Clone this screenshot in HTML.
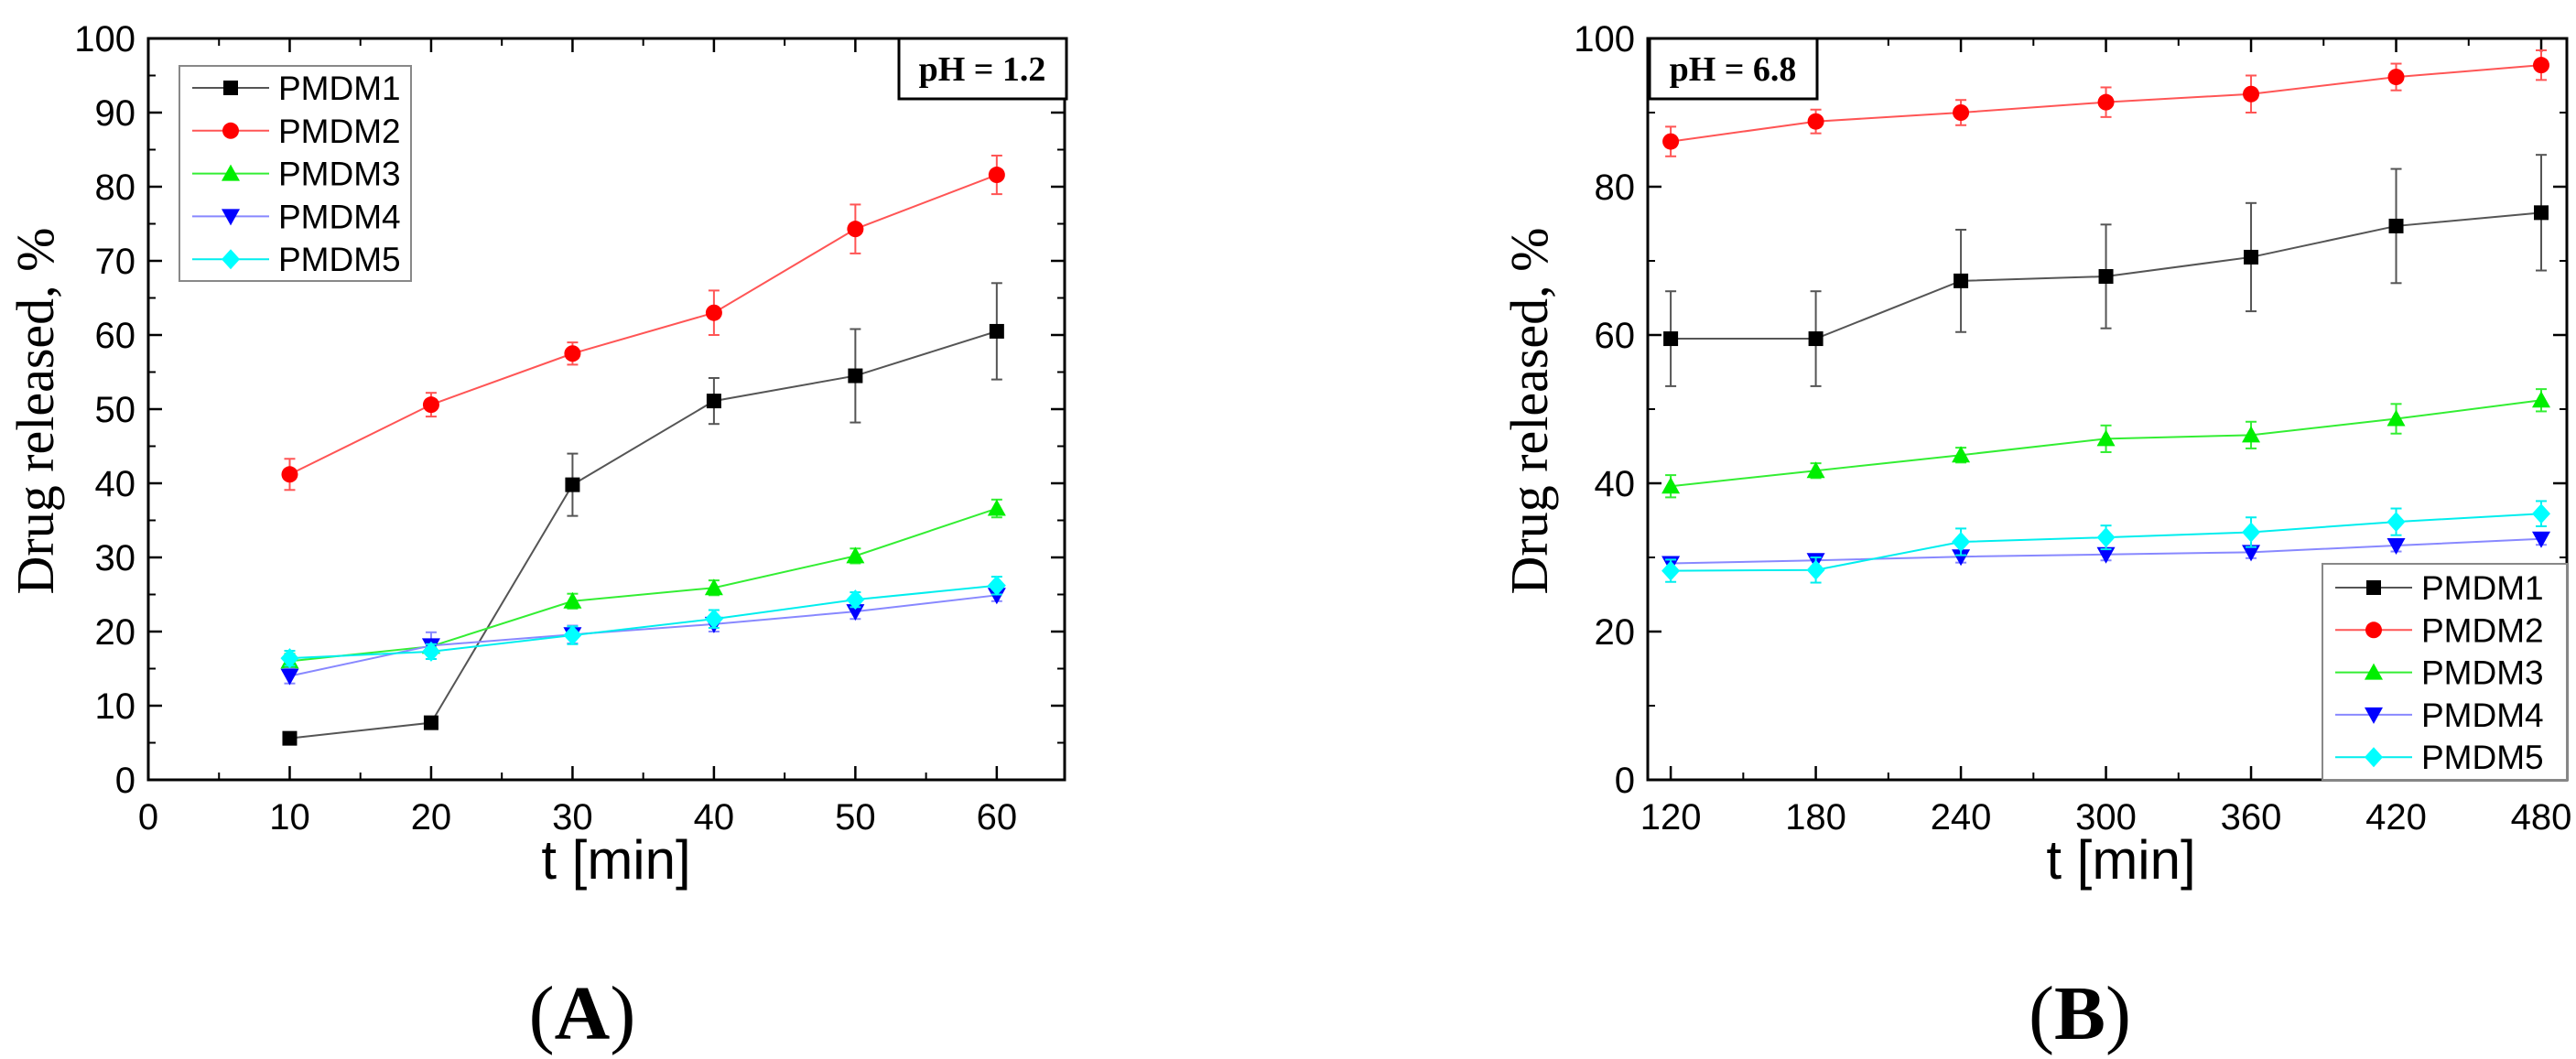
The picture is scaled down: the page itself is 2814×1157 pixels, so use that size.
<!DOCTYPE html>
<html><head><meta charset="utf-8"><style>
body{margin:0;background:#fff}
svg{display:block}
text{font-family:"Liberation Sans",sans-serif}
.serif{font-family:"Liberation Serif",serif}
</style></head><body>
<svg id="fig" width="2814" height="1157" viewBox="0 0 2814 1157"></svg>
<script>
const tA = [10,20,30,40,50,60];
const A1 = [5.6,7.7,39.8,51.1,54.5,60.5];
const A1e = [0.6,0.6,4.2,3.1,6.3,6.5];
const A2 = [41.2,50.6,57.5,63.0,74.3,81.6];
const A2e = [2.1,1.6,1.5,3.0,3.3,2.6];
const A3 = [16.0,18.0,24.1,25.9,30.2,36.6];
const A3e = [1.0,0.8,1.0,1.0,1.0,1.2];
const A4 = [14.0,18.1,19.6,21.0,22.7,24.9];
const A4e = [1.0,1.8,1.2,1.0,1.0,0.8];
const A5 = [16.4,17.3,19.5,21.7,24.3,26.2];
const A5e = [1.0,1.0,1.2,1.2,1.0,1.2];
const tB = [120,180,240,300,360,420,480];
const B1 = [59.5,59.5,67.3,67.9,70.5,74.7,76.5];
const B1e = [6.4,6.4,6.9,7.0,7.3,7.7,7.8];
const B2 = [86.1,88.8,90.0,91.4,92.5,94.8,96.4];
const B2e = [2.0,1.6,1.7,2.0,2.5,1.8,2.0];
const B3 = [39.6,41.7,43.8,46.0,46.5,48.7,51.2];
const B3e = [1.5,1.0,1.0,1.8,1.8,2.0,1.5];
const B4 = [29.2,29.6,30.1,30.4,30.7,31.6,32.5];
const B4e = [0.8,0.8,0.8,0.8,0.8,0.8,0.8];
const B5 = [28.2,28.3,32.1,32.7,33.4,34.8,35.9];
const B5e = [1.5,1.7,1.8,1.6,2.0,1.8,1.7];
const xTicksA = [0,10,20,30,40,50,60];
const yTicksA = [0,10,20,30,40,50,60,70,80,90,100];
const xTicksB = [120,180,240,300,360,420,480];
const yTicksB = [0,20,40,60,80,100];
const seriesNames = ["PMDM1","PMDM2","PMDM3","PMDM4","PMDM5"];

const NS="http://www.w3.org/2000/svg";
const svg=document.getElementById('fig');
function mk(tag,attrs,parent){const e=document.createElementNS(NS,tag);for(const k in attrs)e.setAttribute(k,attrs[k]);(parent||svg).appendChild(e);return e;}
const styles=[
 {line:"#555",mk:"#000",shape:"square"},
 {line:"#f55",mk:"#f00",shape:"circle"},
 {line:"#3e3",mk:"#0e0",shape:"up"},
 {line:"#88f",mk:"#00f",shape:"down"},
 {line:"#0ee",mk:"#0ff",shape:"diamond"}];
function marker(g,s,x,y){
  const c=s.mk;let e;
  if(s.shape=="square")e=mk('rect',{x:x-8,y:y-8,width:16,height:16,fill:c},g);
  else if(s.shape=="circle")e=mk('circle',{cx:x,cy:y,r:9,fill:c},g);
  else if(s.shape=="up")e=mk('polygon',{points:`${x},${y-10} ${x+10},${y+8} ${x-10},${y+8}`,fill:c},g);
  else if(s.shape=="down")e=mk('polygon',{points:`${x},${y+10} ${x+10},${y-8} ${x-10},${y-8}`,fill:c},g);
  else e=mk('polygon',{points:`${x},${y-11} ${x+10},${y} ${x},${y+11} ${x-10},${y}`,fill:c},g);
  
  
}
function chart(cfg){
  const {L,R,T,B,x0,x1,y0,y1}=cfg;
  const sx=v=>L+(v-x0)/(x1-x0)*(R-L), sy=v=>B-(v-y0)/(y1-y0)*(B-T);
  const g=mk('g',{});
  
  
  // minor ticks
  cfg.xMinor.forEach(v=>{mk('line',{x1:sx(v),x2:sx(v),y1:B,y2:B-8,stroke:'#000','stroke-width':2},g);mk('line',{x1:sx(v),x2:sx(v),y1:T,y2:T+8,stroke:'#000','stroke-width':2},g);});
  cfg.yMinor.forEach(v=>{mk('line',{x1:L,x2:L+8,y1:sy(v),y2:sy(v),stroke:'#000','stroke-width':2},g);mk('line',{x1:R,x2:R-8,y1:sy(v),y2:sy(v),stroke:'#000','stroke-width':2},g);});
  cfg.xT.forEach(v=>{mk('line',{x1:sx(v),x2:sx(v),y1:B,y2:B-15,stroke:'#000','stroke-width':2.5},g);mk('line',{x1:sx(v),x2:sx(v),y1:T,y2:T+15,stroke:'#000','stroke-width':2.5},g);
    const t=mk('text',{x:sx(v),y:B+54,'font-size':40,'text-anchor':'middle'},g);t.textContent=v;
    
    });
  cfg.yT.forEach(v=>{mk('line',{x1:L,x2:L+15,y1:sy(v),y2:sy(v),stroke:'#000','stroke-width':2.5},g);mk('line',{x1:R,x2:R-15,y1:sy(v),y2:sy(v),stroke:'#000','stroke-width':2.5},g);
    const t=mk('text',{x:L-14,y:sy(v)+14,'font-size':40,'text-anchor':'end'},g);t.textContent=v;
    
    });
  const fr=mk('rect',{x:L,y:T,width:R-L,height:B-T,fill:'none',stroke:'#000','stroke-width':3},g);
  
  
  cfg.series.forEach((d,i)=>{
    const s=styles[i];const sg=mk('g',{},g);
    
    
    d.v.forEach((v,j)=>{const x=sx(cfg.t[j]);
      mk('line',{x1:x,x2:x,y1:sy(v-d.e[j]),y2:sy(v+d.e[j]),stroke:s.line,'stroke-width':2},sg);
      mk('line',{x1:x-6,x2:x+6,y1:sy(v-d.e[j]),y2:sy(v-d.e[j]),stroke:s.line,'stroke-width':2},sg);
      mk('line',{x1:x-6,x2:x+6,y1:sy(v+d.e[j]),y2:sy(v+d.e[j]),stroke:s.line,'stroke-width':2},sg);});
    mk('polyline',{points:d.v.map((v,j)=>sx(cfg.t[j])+','+sy(v)).join(' '),fill:'none',stroke:s.line,'stroke-width':2},sg);
    d.v.forEach((v,j)=>marker(sg,s,sx(cfg.t[j]),sy(v)));
  });
  // legend
  const lg=mk('g',{},g);
  
  
  const Lg=cfg.leg;
  mk('rect',{x:Lg.x,y:Lg.y,width:Lg.w,height:Lg.h,fill:'#fff',stroke:'#888','stroke-width':2},lg);
  seriesNames.forEach((n,i)=>{const y=Lg.y+Lg.first+i*Lg.step;const s=styles[i];
    const eg=mk('g',{},lg);
    
    
    mk('line',{x1:Lg.x+14,x2:Lg.x+98,y1:y,y2:y,stroke:s.line,'stroke-width':2},eg);
    marker(eg,s,Lg.x+56,y);
    const t=mk('text',{x:Lg.x+108,y:y+13,'font-size':37},eg);t.textContent=n;});
  // pH box
  const pb=mk('rect',{x:cfg.ph.x,y:T,width:183,height:66,fill:'#fff',stroke:'#000','stroke-width':3},g);
  
  
  const pt=mk('text',{x:cfg.ph.x+91,y:T+46,'font-size':38,'font-weight':'bold','text-anchor':'middle',class:'serif'},g);pt.textContent=cfg.ph.t;
  
  
  // titles
  const xt=mk('text',{x:cfg.xtx,y:960,'font-size':60,'text-anchor':'middle'},g);xt.textContent='t [min]';
  
  
  const yt=mk('text',{x:0,y:0,'font-size':58,'text-anchor':'middle',class:'serif',transform:`translate(${cfg.ytx},449) rotate(-90)`},g);yt.textContent='Drug released, %';
  
  
  const pl=mk('text',{x:cfg.pan.x,y:1135,'font-size':84,'text-anchor':'middle',class:'serif'},g);
  pl.innerHTML='(<tspan font-weight="bold">'+cfg.pan.t+'</tspan>)';
  
  
}
chart({name:'chart-a',L:162,R:1163,T:42,B:852,x0:0,x1:64.8,y0:0,y1:100,t:tA,
  xT:xTicksA,yT:yTicksA,xMinor:[5,15,25,35,45,55],yMinor:[5,15,25,35,45,55,65,75,85,95],
  series:[{v:A1,e:A1e},{v:A2,e:A2e},{v:A3,e:A3e},{v:A4,e:A4e},{v:A5,e:A5e}],
  leg:{x:196,y:72,w:253,h:235,first:24,step:46.8},ph:{x:982,t:'pH = 1.2'},
  xtx:673,ytx:58,pan:{x:636,t:'A'}});
chart({name:'chart-b',L:1800,R:2804,T:42,B:852,x0:110.5,x1:490.6,y0:0,y1:100,t:tB,
  xT:xTicksB,yT:yTicksB,xMinor:[150,210,270,330,390,450],yMinor:[10,30,50,70,90],
  series:[{v:B1,e:B1e},{v:B2,e:B2e},{v:B3,e:B3e},{v:B4,e:B4e},{v:B5,e:B5e}],
  leg:{x:2537,y:616,w:267,h:236,first:26,step:46.3},ph:{x:1802,t:'pH = 6.8'},
  xtx:2317,ytx:1690,pan:{x:2272,t:'B'}});
</script>
</body></html>
